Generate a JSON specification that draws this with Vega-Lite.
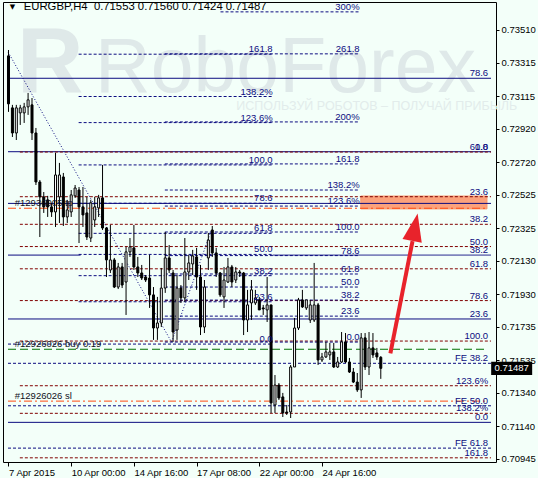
{
"$schema": "https://vega.github.io/schema/vega-lite/v6.json",
"width": 493, "height": 460,
"autosize": {"type": "none"},
"padding": {"left": 3, "top": 2, "right": 42, "bottom": 16},
"background": "#f3fff9",
"config": {"view": {"stroke": "black", "strokeWidth": 1}, "axis": {"grid": false, "domain": false, "labelFont": "Liberation Sans", "labelFontSize": 9.5, "labelColor": "black", "tickColor": "black", "labelOverlap": false, "labelFlush": false, "tickCount": 40}},
"datasets": {
"wm": [{"x": 22.1, "y": 0.73139, "t": "RoboForex"}],
"logo": [{"x": 2.2, "y": 0.73139, "t": "R"}],
"sub": [{"x": 58.1, "y": 0.73032, "t": "ИСПОЛЬЗУЙ РОБОТОВ – ПОЛУЧАЙ ПРИБЫЛЬ"}],
"box": [{"x": 89.9, "x2": 122.1, "y": 0.72517, "y2": 0.72440}],
"hl": [
{"x": -0.125, "x2": 123.125, "y": 0.73221, "s": "ns"},
{"x": -0.125, "x2": 123.125, "y": 0.72782, "s": "ns"},
{"x": -0.125, "x2": 123.125, "y": 0.72473, "s": "ns"},
{"x": -0.125, "x2": 123.125, "y": 0.71782, "s": "ns"},
{"x": -0.125, "x2": 123.125, "y": 0.71164, "s": "ns"},
{"x": -0.125, "x2": 18.4, "y": 0.72164, "s": "ns"},
{"x": 67.4, "x2": 123.125, "y": 0.72164, "s": "ns"},
{"x": 2.9, "x2": 123.125, "y": 0.72780, "s": "rd"},
{"x": 2.9, "x2": 123.125, "y": 0.72513, "s": "rd"},
{"x": 2.9, "x2": 123.125, "y": 0.72348, "s": "rd"},
{"x": 2.9, "x2": 123.125, "y": 0.72215, "s": "rd"},
{"x": 2.9, "x2": 123.125, "y": 0.72082, "s": "rd"},
{"x": 2.9, "x2": 123.125, "y": 0.71892, "s": "rd"},
{"x": 2.9, "x2": 123.125, "y": 0.71650, "s": "rd"},
{"x": 2.9, "x2": 123.125, "y": 0.71383, "s": "rd"},
{"x": 2.9, "x2": 123.125, "y": 0.71218, "s": "rd"},
{"x": 2.9, "x2": 123.125, "y": 0.70952, "s": "rd"},
{"x": -0.125, "x2": 123.125, "y": 0.71517, "s": "nd"},
{"x": -0.125, "x2": 123.125, "y": 0.71263, "s": "nd"},
{"x": -0.125, "x2": 123.125, "y": 0.71010, "s": "nd"},
{"x": -0.125, "x2": 67.4, "y": 0.71632, "s": "nd"},
{"x": 17.9, "x2": 67.4, "y": 0.71885, "s": "nd"},
{"x": 17.9, "x2": 67.4, "y": 0.72041, "s": "nd"},
{"x": 17.9, "x2": 67.4, "y": 0.72168, "s": "nd"},
{"x": 17.9, "x2": 67.4, "y": 0.72294, "s": "nd"},
{"x": 17.9, "x2": 67.4, "y": 0.72474, "s": "nd"},
{"x": 17.9, "x2": 67.4, "y": 0.72703, "s": "nd"},
{"x": 17.9, "x2": 67.4, "y": 0.72956, "s": "nd"},
{"x": 17.9, "x2": 67.4, "y": 0.73112, "s": "nd"},
{"x": 17.9, "x2": 67.4, "y": 0.73365, "s": "nd"},
{"x": 39.9, "x2": 89.6, "y": 0.71644, "s": "nd"},
{"x": 39.9, "x2": 89.6, "y": 0.71799, "s": "nd"},
{"x": 39.9, "x2": 89.6, "y": 0.71895, "s": "nd"},
{"x": 39.9, "x2": 89.6, "y": 0.71973, "s": "nd"},
{"x": 39.9, "x2": 89.6, "y": 0.72051, "s": "nd"},
{"x": 39.9, "x2": 89.6, "y": 0.72161, "s": "nd"},
{"x": 39.9, "x2": 89.6, "y": 0.72302, "s": "nd"},
{"x": 39.9, "x2": 89.6, "y": 0.72457, "s": "nd"},
{"x": 39.9, "x2": 89.6, "y": 0.72553, "s": "nd"},
{"x": 39.9, "x2": 89.6, "y": 0.72709, "s": "nd"},
{"x": 39.9, "x2": 89.6, "y": 0.72960, "s": "nd"},
{"x": 39.9, "x2": 89.6, "y": 0.73367, "s": "nd"},
{"x": 54.1, "x2": 89.6, "y": 0.73618, "s": "nd"},
{"x": -0.125, "x2": 122.1, "y": 0.71601, "s": "gr"},
{"x": -0.125, "x2": 122.1, "y": 0.72444, "s": "or"},
{"x": -0.125, "x2": 122.1, "y": 0.71291, "s": "or"}
],
"trend": [
{"x": -0.1, "y": 0.73378, "x2": 41.6, "y2": 0.71644},
{"x": 41.6, "y": 0.71644, "x2": 51.6, "y2": 0.72302}
],
"candles": [
{"i":0,"o":0.73355,"h":0.73390,"l":0.73020,"c":0.73068},
{"i":1,"o":0.73044,"h":0.73062,"l":0.72870,"c":0.72894},
{"i":2,"o":0.72894,"h":0.73062,"l":0.72852,"c":0.73044},
{"i":3,"o":0.73014,"h":0.73062,"l":0.72942,"c":0.73044},
{"i":4,"o":0.73014,"h":0.73074,"l":0.72954,"c":0.73050},
{"i":5,"o":0.73050,"h":0.73133,"l":0.73002,"c":0.73092},
{"i":6,"o":0.73062,"h":0.73103,"l":0.72852,"c":0.72894},
{"i":7,"o":0.72894,"h":0.72924,"l":0.72583,"c":0.72601},
{"i":8,"o":0.72601,"h":0.72613,"l":0.72272,"c":0.72512},
{"i":9,"o":0.72512,"h":0.72541,"l":0.72416,"c":0.72452},
{"i":10,"o":0.72494,"h":0.72518,"l":0.72392,"c":0.72452},
{"i":11,"o":0.72452,"h":0.72476,"l":0.72392,"c":0.72422},
{"i":12,"o":0.72422,"h":0.72775,"l":0.72332,"c":0.72643},
{"i":13,"o":0.72512,"h":0.72715,"l":0.72356,"c":0.72643},
{"i":14,"o":0.72631,"h":0.72655,"l":0.72338,"c":0.72392},
{"i":15,"o":0.72392,"h":0.72494,"l":0.72356,"c":0.72434},
{"i":16,"o":0.72422,"h":0.72553,"l":0.72392,"c":0.72524},
{"i":17,"o":0.72518,"h":0.72583,"l":0.72506,"c":0.72565},
{"i":18,"o":0.72553,"h":0.72571,"l":0.72236,"c":0.72452},
{"i":19,"o":0.72452,"h":0.72571,"l":0.72332,"c":0.72404},
{"i":20,"o":0.72416,"h":0.72512,"l":0.72254,"c":0.72272},
{"i":21,"o":0.72266,"h":0.72494,"l":0.72242,"c":0.72476},
{"i":22,"o":0.72374,"h":0.72512,"l":0.72332,"c":0.72452},
{"i":23,"o":0.72446,"h":0.72524,"l":0.72392,"c":0.72506},
{"i":24,"o":0.72506,"h":0.72703,"l":0.72314,"c":0.72326},
{"i":25,"o":0.72326,"h":0.72332,"l":0.72033,"c":0.72135},
{"i":26,"o":0.72075,"h":0.72344,"l":0.72057,"c":0.72135},
{"i":27,"o":0.72135,"h":0.72147,"l":0.71967,"c":0.71973},
{"i":28,"o":0.71973,"h":0.72117,"l":0.71961,"c":0.72093},
{"i":29,"o":0.72093,"h":0.72117,"l":0.71967,"c":0.71985},
{"i":30,"o":0.72003,"h":0.72213,"l":0.71806,"c":0.72183},
{"i":31,"o":0.72183,"h":0.72266,"l":0.72153,"c":0.72213},
{"i":32,"o":0.72207,"h":0.72344,"l":0.72075,"c":0.72093},
{"i":33,"o":0.72093,"h":0.72153,"l":0.72033,"c":0.72057},
{"i":34,"o":0.72057,"h":0.72105,"l":0.72015,"c":0.72027},
{"i":35,"o":0.72033,"h":0.72045,"l":0.72003,"c":0.72015},
{"i":36,"o":0.72027,"h":0.72165,"l":0.71848,"c":0.71926},
{"i":37,"o":0.71926,"h":0.71973,"l":0.71657,"c":0.71728},
{"i":38,"o":0.71728,"h":0.71914,"l":0.71657,"c":0.71758},
{"i":39,"o":0.71758,"h":0.72087,"l":0.71734,"c":0.71967},
{"i":40,"o":0.71967,"h":0.72302,"l":0.71938,"c":0.72147},
{"i":41,"o":0.72147,"h":0.72224,"l":0.72057,"c":0.72075},
{"i":42,"o":0.72057,"h":0.72075,"l":0.71645,"c":0.71704},
{"i":43,"o":0.71716,"h":0.72045,"l":0.71657,"c":0.71967},
{"i":44,"o":0.71967,"h":0.71985,"l":0.71878,"c":0.71908},
{"i":45,"o":0.71908,"h":0.72266,"l":0.71884,"c":0.72063},
{"i":46,"o":0.72063,"h":0.72165,"l":0.72015,"c":0.72117},
{"i":47,"o":0.72111,"h":0.72195,"l":0.72045,"c":0.72159},
{"i":48,"o":0.72153,"h":0.72207,"l":0.71956,"c":0.72033},
{"i":49,"o":0.72033,"h":0.72105,"l":0.71686,"c":0.71734},
{"i":50,"o":0.71734,"h":0.72015,"l":0.71698,"c":0.71973},
{"i":51,"o":0.72147,"h":0.72296,"l":0.72075,"c":0.72254},
{"i":52,"o":0.72314,"h":0.72338,"l":0.72153,"c":0.72177},
{"i":53,"o":0.72177,"h":0.72207,"l":0.72033,"c":0.72057},
{"i":54,"o":0.72057,"h":0.72063,"l":0.71914,"c":0.71926},
{"i":55,"o":0.71914,"h":0.72093,"l":0.71848,"c":0.72015},
{"i":56,"o":0.72003,"h":0.72147,"l":0.71997,"c":0.72093},
{"i":57,"o":0.72093,"h":0.72105,"l":0.71973,"c":0.72003},
{"i":58,"o":0.72015,"h":0.72093,"l":0.71997,"c":0.72063},
{"i":59,"o":0.72063,"h":0.72075,"l":0.72033,"c":0.72057},
{"i":60,"o":0.72057,"h":0.72063,"l":0.71686,"c":0.71776},
{"i":61,"o":0.71776,"h":0.71956,"l":0.71704,"c":0.71866},
{"i":62,"o":0.71878,"h":0.72015,"l":0.71776,"c":0.71956},
{"i":63,"o":0.71878,"h":0.71956,"l":0.71866,"c":0.71908},
{"i":64,"o":0.71896,"h":0.71914,"l":0.71836,"c":0.71836},
{"i":65,"o":0.71848,"h":0.71866,"l":0.71806,"c":0.71842},
{"i":66,"o":0.71836,"h":0.72033,"l":0.71764,"c":0.71866},
{"i":67,"o":0.71866,"h":0.71866,"l":0.71220,"c":0.71280},
{"i":68,"o":0.71268,"h":0.71447,"l":0.71220,"c":0.71387},
{"i":69,"o":0.71387,"h":0.71399,"l":0.71298,"c":0.71310},
{"i":70,"o":0.71316,"h":0.71340,"l":0.71196,"c":0.71220},
{"i":71,"o":0.71226,"h":0.71268,"l":0.71208,"c":0.71220},
{"i":72,"o":0.71226,"h":0.71507,"l":0.71190,"c":0.71495},
{"i":73,"o":0.71495,"h":0.71788,"l":0.71495,"c":0.71728},
{"i":74,"o":0.71728,"h":0.71908,"l":0.71716,"c":0.71896},
{"i":75,"o":0.71896,"h":0.71956,"l":0.71848,"c":0.71854},
{"i":76,"o":0.71848,"h":0.71896,"l":0.71836,"c":0.71896},
{"i":77,"o":0.71776,"h":0.71896,"l":0.71758,"c":0.71866},
{"i":78,"o":0.71776,"h":0.72117,"l":0.71764,"c":0.71866},
{"i":79,"o":0.71866,"h":0.71878,"l":0.71507,"c":0.71537},
{"i":80,"o":0.71537,"h":0.71579,"l":0.71525,"c":0.71555},
{"i":81,"o":0.71555,"h":0.71645,"l":0.71549,"c":0.71585},
{"i":82,"o":0.71567,"h":0.71639,"l":0.71537,"c":0.71585},
{"i":83,"o":0.71585,"h":0.71639,"l":0.71489,"c":0.71495},
{"i":84,"o":0.71495,"h":0.71555,"l":0.71489,"c":0.71525},
{"i":85,"o":0.71525,"h":0.71704,"l":0.71519,"c":0.71645},
{"i":86,"o":0.71645,"h":0.71698,"l":0.71519,"c":0.71525},
{"i":87,"o":0.71525,"h":0.71549,"l":0.71459,"c":0.71465},
{"i":88,"o":0.71465,"h":0.71489,"l":0.71399,"c":0.71405},
{"i":89,"o":0.71405,"h":0.71459,"l":0.71346,"c":0.71358},
{"i":90,"o":0.71358,"h":0.71698,"l":0.71310,"c":0.71669},
{"i":91,"o":0.71669,"h":0.71698,"l":0.71477,"c":0.71495},
{"i":92,"o":0.71495,"h":0.71704,"l":0.71447,"c":0.71609},
{"i":93,"o":0.71609,"h":0.71698,"l":0.71549,"c":0.71567},
{"i":94,"o":0.71579,"h":0.71609,"l":0.71537,"c":0.71555},
{"i":95,"o":0.71553,"h":0.71560,"l":0.71424,"c":0.71487}
],
"lab": [
{"x": 122.4, "y": 0.72780, "t": "0.0", "g": "r"},
{"x": 122.4, "y": 0.72513, "t": "23.6", "g": "r"},
{"x": 122.4, "y": 0.72348, "t": "38.2", "g": "r"},
{"x": 122.4, "y": 0.72215, "t": "50.0", "g": "r"},
{"x": 122.4, "y": 0.72082, "t": "61.8", "g": "r"},
{"x": 122.4, "y": 0.71892, "t": "78.6", "g": "r"},
{"x": 122.4, "y": 0.71650, "t": "100.0", "g": "r"},
{"x": 122.4, "y": 0.71383, "t": "123.6%", "g": "r"},
{"x": 122.4, "y": 0.71218, "t": "138.2%", "g": "r"},
{"x": 122.4, "y": 0.70952, "t": "161.8", "g": "r"},
{"x": 122.4, "y": 0.73221, "t": "78.6", "g": "n"},
{"x": 122.4, "y": 0.72782, "t": "61.8", "g": "n"},
{"x": 122.4, "y": 0.72164, "t": "38.2", "g": "n"},
{"x": 122.4, "y": 0.71782, "t": "23.6", "g": "n"},
{"x": 122.4, "y": 0.71164, "t": "0.0", "g": "n"},
{"x": 122.4, "y": 0.71517, "t": "FE 38.2", "g": "n"},
{"x": 122.4, "y": 0.71263, "t": "FE 50.0", "g": "n"},
{"x": 122.4, "y": 0.71010, "t": "FE 61.8", "g": "n"},
{"x": 67.4, "y": 0.71632, "t": "0.0", "g": "n"},
{"x": 67.4, "y": 0.71885, "t": "23.6", "g": "n"},
{"x": 67.4, "y": 0.72041, "t": "38.2", "g": "n"},
{"x": 67.4, "y": 0.72168, "t": "50.0", "g": "n"},
{"x": 67.4, "y": 0.72294, "t": "61.8", "g": "n"},
{"x": 67.4, "y": 0.72474, "t": "78.6", "g": "n"},
{"x": 67.4, "y": 0.72703, "t": "100.0", "g": "n"},
{"x": 67.4, "y": 0.72956, "t": "123.6%", "g": "n"},
{"x": 67.4, "y": 0.73112, "t": "138.2%", "g": "n"},
{"x": 67.4, "y": 0.73365, "t": "161.8", "g": "n"},
{"x": 89.6, "y": 0.71644, "t": "0.0", "g": "n"},
{"x": 89.6, "y": 0.71799, "t": "23.6", "g": "n"},
{"x": 89.6, "y": 0.71895, "t": "38.2", "g": "n"},
{"x": 89.6, "y": 0.71973, "t": "50.0", "g": "n"},
{"x": 89.6, "y": 0.72051, "t": "61.8", "g": "n"},
{"x": 89.6, "y": 0.72161, "t": "78.6", "g": "n"},
{"x": 89.6, "y": 0.72302, "t": "100.0", "g": "n"},
{"x": 89.6, "y": 0.72457, "t": "123.6%", "g": "n"},
{"x": 89.6, "y": 0.72553, "t": "138.2%", "g": "n"},
{"x": 89.6, "y": 0.72709, "t": "161.8", "g": "n"},
{"x": 89.6, "y": 0.72960, "t": "200%", "g": "n"},
{"x": 89.6, "y": 0.73367, "t": "261.8", "g": "n"},
{"x": 89.6, "y": 0.73618, "t": "300%", "g": "n"}
],
"orders": [
{"x": 1.6, "y": 0.72444, "t": "#12936005 tp"},
{"x": 1.6, "y": 0.71601, "t": "#12926026 buy 0.19"},
{"x": 1.6, "y": 0.71291, "t": "#12926026 sl"}
],
"tri": [{"x": 0.35, "y": 0.73645, "t": "▼"}],
"head": [{"x": 3.9, "y": 0.73645, "t": "EURGBP,H4\u00a0\u00a00.71553 0.71560 0.71424 0.71487"}],
"arrow": [{"x": 97.45, "y": 0.71577, "x2": 103.1, "y2": 0.72248}],
"ahead": [{"x": 103.7, "y": 0.72331}],
"tag": [{"x": 128.4, "y": 0.71487, "t": "0.71487"}]
},
"layer": [
{"data": {"name": "wm"}, "mark": {"type": "text", "font": "Liberation Sans", "fontSize": 77, "align": "left", "baseline": "alphabetic", "color": "#dfe9e9"},
 "encoding": {
  "x": {"field": "x", "type": "quantitative", "title": null, "scale": {"domain": [-0.125, 123.125], "nice": false, "zero": false},
   "axis": {"values": [0, 16, 32, 48, 64, 80], "tickCount": 40, "labelExpr": "datum.value==0?'7 Apr 2015':datum.value==16?'10 Apr 00:00':datum.value==32?'14 Apr 16:00':datum.value==48?'17 Apr 08:00':datum.value==64?'22 Apr 00:00':'24 Apr 16:00'", "labelAlign": "left", "labelBaseline": "top", "labelPadding": 1, "tickSize": 4, "labelOverlap": false, "labelFlush": false, "title": null}},
  "y": {"field": "y", "type": "quantitative", "title": null, "scale": {"domain": [0.70927, 0.73677], "nice": false, "zero": false},
   "axis": {"orient": "right", "tickCount": 40, "values": [0.7351, 0.73315, 0.73115, 0.7292, 0.7272, 0.72525, 0.72325, 0.7213, 0.7193, 0.71735, 0.71535, 0.7134, 0.7114, 0.70945], "format": ".5f", "tickSize": 3, "labelPadding": 2, "labelOverlap": false, "labelFlush": false, "title": null}},
  "text": {"field": "t"}}},
{"data": {"name": "logo"}, "mark": {"type": "text", "font": "Liberation Sans", "fontWeight": "bold", "fontSize": 92, "align": "left", "baseline": "alphabetic", "color": "#dfe9e9"},
 "encoding": {"x": {"field": "x", "type": "quantitative", "title": null}, "y": {"field": "y", "type": "quantitative", "title": null}, "text": {"field": "t"}}},
{"data": {"name": "sub"}, "mark": {"type": "text", "font": "Liberation Sans", "fontSize": 12.5, "align": "left", "baseline": "alphabetic", "color": "#e2eceb"},
 "encoding": {"x": {"field": "x", "type": "quantitative", "title": null}, "y": {"field": "y", "type": "quantitative", "title": null}, "text": {"field": "t"}}},
{"data": {"name": "box"}, "mark": {"type": "rect", "fill": "#fba27c", "stroke": "#f79a70", "strokeWidth": 1},
 "encoding": {"x": {"field": "x", "type": "quantitative", "title": null}, "x2": {"field": "x2"}, "y": {"field": "y", "type": "quantitative", "title": null}, "y2": {"field": "y2"}}},
{"data": {"name": "hl"}, "mark": {"type": "rule", "strokeWidth": 1},
 "encoding": {"x": {"field": "x", "type": "quantitative", "title": null}, "x2": {"field": "x2"}, "y": {"field": "y", "type": "quantitative", "title": null},
  "color": {"field": "s", "type": "nominal", "legend": null, "scale": {"domain": ["ns", "nd", "rd", "gr", "or"], "range": ["#0c0c80", "#0c0c80", "#800000", "#007000", "#ff4a10"]}},
  "strokeDash": {"field": "s", "type": "nominal", "legend": null, "scale": {"domain": ["ns", "nd", "rd", "gr", "or"], "range": [[1, 0], [3, 2], [3, 2], [8, 4], [8, 3, 2, 3]]}}}},
{"data": {"name": "trend"}, "mark": {"type": "rule", "strokeWidth": 1, "color": "#0c0c80", "strokeDash": [1, 2]},
 "encoding": {"x": {"field": "x", "type": "quantitative", "title": null}, "x2": {"field": "x2"}, "y": {"field": "y", "type": "quantitative", "title": null}, "y2": {"field": "y2"}}},
{"data": {"name": "candles"}, "mark": {"type": "rule", "color": "black", "strokeWidth": 1},
 "encoding": {"x": {"field": "i", "type": "quantitative", "title": null}, "y": {"field": "l", "type": "quantitative", "title": null}, "y2": {"field": "h"}}},
{"data": {"name": "candles"}, "mark": {"type": "bar", "size": 2, "stroke": "black", "strokeWidth": 1},
 "encoding": {"x": {"field": "i", "type": "quantitative", "title": null}, "y": {"field": "o", "type": "quantitative", "title": null}, "y2": {"field": "c"},
  "fill": {"condition": {"test": "datum.c >= datum.o", "value": "white"}, "value": "black"}}},
{"data": {"name": "lab"}, "mark": {"type": "text", "font": "Liberation Sans", "fontSize": 9.5, "align": "right", "baseline": "alphabetic", "dy": -2},
 "encoding": {"x": {"field": "x", "type": "quantitative", "title": null}, "y": {"field": "y", "type": "quantitative", "title": null}, "text": {"field": "t"},
  "color": {"field": "g", "type": "nominal", "legend": null, "scale": {"domain": ["r", "n"], "range": ["#9a1515", "#1c1c8c"]}}}},
{"data": {"name": "orders"}, "mark": {"type": "text", "font": "Liberation Sans", "fontSize": 9.5, "align": "left", "baseline": "alphabetic", "dy": -2, "color": "#111122"},
 "encoding": {"x": {"field": "x", "type": "quantitative", "title": null}, "y": {"field": "y", "type": "quantitative", "title": null}, "text": {"field": "t"}}},
{"data": {"name": "tri"}, "mark": {"type": "text", "font": "DejaVu Sans", "fontSize": 7, "align": "left", "baseline": "middle", "color": "black"},
 "encoding": {"x": {"field": "x", "type": "quantitative", "title": null}, "y": {"field": "y", "type": "quantitative", "title": null}, "text": {"field": "t"}}},
{"data": {"name": "head"}, "mark": {"type": "text", "font": "Liberation Sans", "fontSize": 11.3, "align": "left", "baseline": "middle", "color": "black"},
 "encoding": {"x": {"field": "x", "type": "quantitative", "title": null}, "y": {"field": "y", "type": "quantitative", "title": null}, "text": {"field": "t"}}},
{"data": {"name": "arrow"}, "mark": {"type": "rule", "strokeWidth": 4, "color": "#e8232b", "strokeCap": "butt"},
 "encoding": {"x": {"field": "x", "type": "quantitative", "title": null}, "x2": {"field": "x2"}, "y": {"field": "y", "type": "quantitative", "title": null}, "y2": {"field": "y2"}}},
{"data": {"name": "ahead"}, "mark": {"type": "point", "shape": "M0,-1L0.7,1L-0.7,1Z", "size": 784, "angle": 11.3, "filled": true, "color": "#e8232b", "opacity": 1},
 "encoding": {"x": {"field": "x", "type": "quantitative", "title": null}, "y": {"field": "y", "type": "quantitative", "title": null}}},
{"data": {"name": "tag"}, "mark": {"type": "point", "shape": "M-1,-0.32L1,-0.32L1,0.32L-1,0.32Z", "size": 1681, "filled": true, "color": "black", "opacity": 1},
 "encoding": {"x": {"field": "x", "type": "quantitative", "title": null}, "y": {"field": "y", "type": "quantitative", "title": null}}},
{"data": {"name": "tag"}, "mark": {"type": "text", "font": "Liberation Sans", "fontSize": 9.5, "align": "center", "baseline": "middle", "color": "white"},
 "encoding": {"x": {"field": "x", "type": "quantitative", "title": null}, "y": {"field": "y", "type": "quantitative", "title": null}, "text": {"field": "t"}}}
]
}
